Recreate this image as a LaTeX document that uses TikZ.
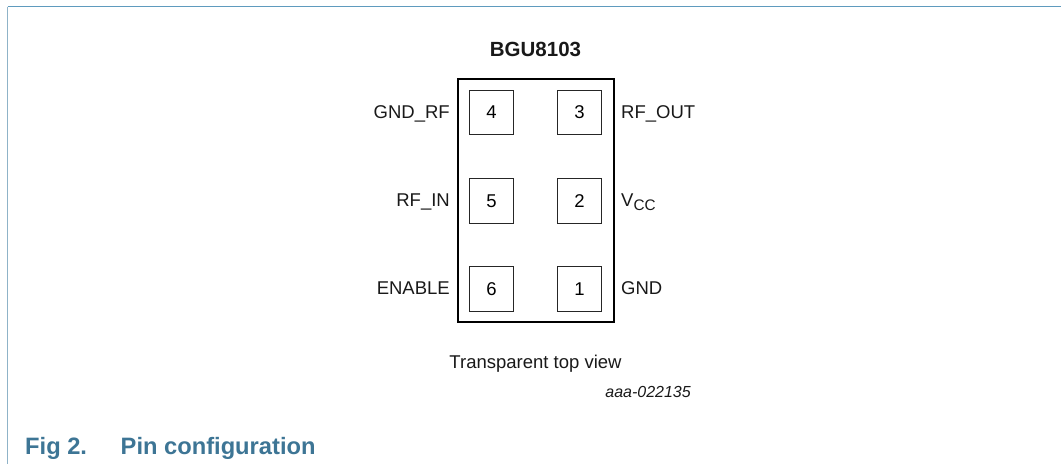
\documentclass[tikz,border=0pt]{standalone}
\usepackage{fontspec}
\setmainfont{Liberation Sans}
\definecolor{framec}{HTML}{8FB3C8}
\definecolor{topc}{HTML}{5F9BBE}
\definecolor{capc}{HTML}{3D7595}
\tikzset{
  chip/.style={draw=black,line width=2.7pt,outer sep=0pt,minimum width=156pt,minimum height=243pt,inner sep=0pt,anchor=north west},
  pin/.style={draw=black!85,line width=1.3pt,minimum width=44.5pt,minimum height=44.5pt,inner sep=0pt,font=\fontsize{18.5}{22}\selectfont},
  lbl/.style={font=\fontsize{18.5}{22}\selectfont,inner sep=0pt,text=black!90},
  rlbl/.style={lbl,anchor=base west},
  llbl/.style={lbl,anchor=base east},
  captext/.style={font=\fontsize{23.7}{28}\bfseries\selectfont,text=capc,inner sep=0pt,anchor=base west}
}
\begin{document}
\begin{tikzpicture}[x=1pt,y=-1pt]
\useasboundingbox (0,0) rectangle (1061,464);
\fill[white] (0,0) rectangle (1061,464);
\coordinate (tl) at (7.5,6.5);
\coordinate (tr) at (1061,6.5);
\coordinate (bl) at (7.5,464);
\draw[framec,line width=1.7pt] (tl) -- (bl);
\draw[topc,line width=1.3pt] (tl) -- (tr);
\node[chip] (ic) at (458,79) {};
\node[pin] (p4) at (491.5,112.5) {4};
\node[pin] (p3) at (579.5,112.5) {3};
\node[pin] (p5) at (491.5,201) {5};
\node[pin] (p2) at (579.5,201) {2};
\node[pin] (p6) at (491.5,289) {6};
\node[pin] (p1) at (579.5,289) {1};
\node[lbl,font=\fontsize{20.5}{24}\bfseries\selectfont,anchor=base] (t) at (535.5,56.7) {BGU8103};
\node[llbl] (l4) at (450,118.3) {GND\_RF};
\node[llbl] (l5) at (450,206.8) {RF\_IN};
\node[llbl] (l6) at (450,294.8) {ENABLE};
\node[rlbl] (l3) at (621,118.3) {RF\_OUT};
\node[rlbl] (l2) at (621,206.8) {V\raisebox{-4pt}{\fontsize{15.3}{18}\selectfont CC}};
\node[rlbl] (l1) at (621,294.8) {GND};
\node[lbl,anchor=base] (tv) at (535.5,368.5) {Transparent top view};
\node[lbl,font=\fontsize{16}{19}\itshape\selectfont,anchor=base east] (id) at (691,397.7) {aaa-022135};
\node[captext] (c1) at (25,454) {Fig 2.};
\node[captext] (c2) at (120.5,454) {Pin configuration};
\end{tikzpicture}
\end{document}
